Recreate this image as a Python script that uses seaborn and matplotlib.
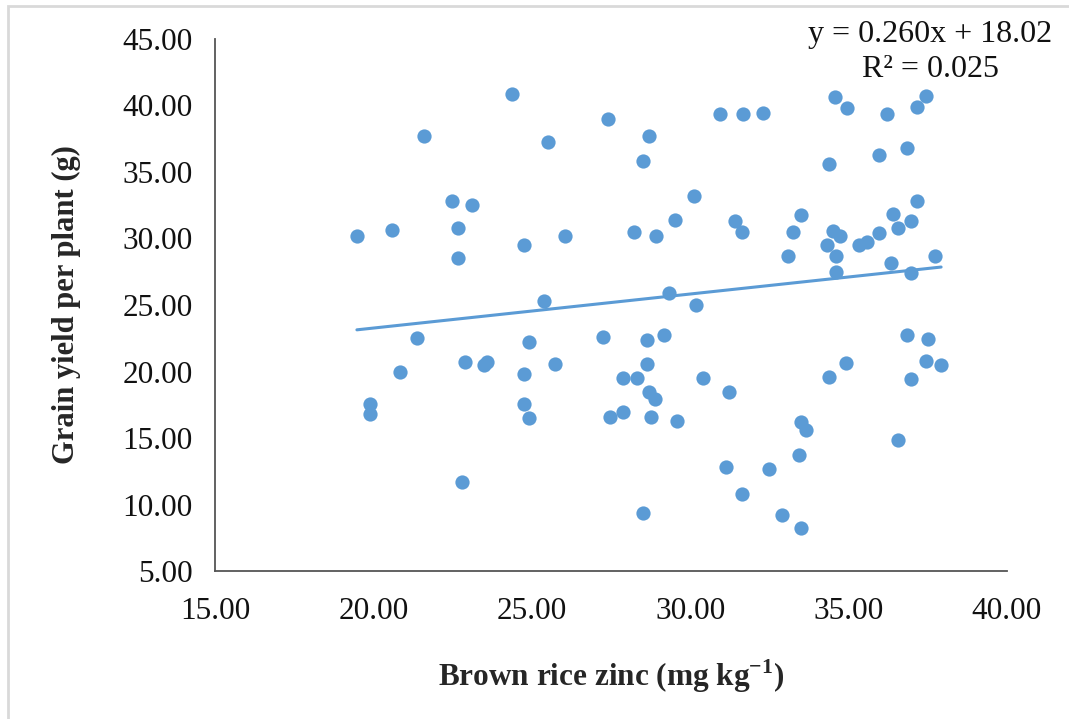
import numpy as np
import pandas as pd
import matplotlib
matplotlib.use("Agg")
import matplotlib.pyplot as plt
import seaborn as sns

# brown rice zinc (mg/kg) and grain yield per plant (g)
zinc = [19.48, 20.59, 19.89, 19.89, 20.84, 21.60, 21.38, 22.48, 22.67, 22.67,
        23.11, 22.89, 22.80, 23.49, 23.59, 24.37, 24.75, 24.75, 24.75, 24.91,
        24.91, 25.38, 25.51, 25.73, 26.05, 27.25, 27.40, 27.47, 27.88, 27.88,
        28.23, 28.32, 28.50, 28.50, 28.64, 28.64, 28.70, 28.70, 28.76, 28.90,
        28.92, 29.17, 29.33, 29.52, 29.58, 30.12, 30.18, 30.40, 30.94, 31.13,
        31.22, 31.41, 31.63, 31.63, 31.67, 32.30, 32.49, 32.90, 33.09, 33.24,
        33.43, 33.50, 33.50, 33.50, 33.66, 34.32, 34.38, 34.38, 34.50, 34.57,
        34.60, 34.60, 34.73, 34.92, 34.95, 35.33, 35.58, 35.96, 35.96, 36.20,
        36.34, 36.40, 36.56, 36.56, 36.84, 36.84, 36.97, 36.97, 36.97, 37.16,
        37.16, 37.44, 37.44, 37.50, 37.73, 37.92]
grain_yield = [30.19, 30.64, 17.56, 16.80, 19.96, 37.70, 22.52, 32.80, 30.79, 28.53,
               32.52, 20.71, 11.70, 20.49, 20.71, 40.86, 29.51, 19.81, 17.56, 22.22,
               16.50, 25.30, 37.26, 20.56, 30.19, 22.60, 38.98, 16.58, 19.50, 16.96,
               30.49, 19.50, 35.80, 9.36, 22.37, 20.56, 37.70, 18.46, 16.58, 17.90,
               30.19, 22.74, 25.90, 31.39, 16.28, 33.20, 25.00, 19.50, 39.36, 12.82,
               18.46, 31.32, 30.49, 10.80, 39.36, 39.40, 12.67, 9.20, 28.68, 30.49,
               13.72, 31.77, 16.20, 8.23, 15.60, 29.51, 35.60, 19.59, 30.56, 40.60,
               28.68, 27.48, 30.19, 20.64, 39.80, 29.51, 29.74, 36.28, 30.41, 39.36,
               28.16, 31.84, 30.79, 14.85, 36.80, 22.74, 31.32, 27.40, 19.44, 39.90,
               32.80, 40.70, 20.79, 22.44, 28.68, 20.49]

df = pd.DataFrame({"zinc": zinc, "yield": grain_yield})

sns.set_style("white")
plt.rcParams["font.family"] = ["Liberation Serif", "DejaVu Serif"]
plt.rcParams["mathtext.fontset"] = "custom"
plt.rcParams["mathtext.rm"] = "Liberation Serif:bold"
plt.rcParams["mathtext.bf"] = "Liberation Serif:bold"

blue = "#5B9BD5"
fig = plt.figure(figsize=(10.69, 7.19), dpi=100)
ax = fig.add_axes([0.2011, 0.2058, 0.7409, 0.74])

# thin grey frame like the pasted excel chart
fig.patches.append(plt.Rectangle((8 / 1069, -0.05), 1.2, 1 - 6 / 719 + 0.05,
                                 transform=fig.transFigure, fill=False,
                                 edgecolor="#d9d9d9", linewidth=2))

sns.regplot(data=df, x="zinc", y="yield", ax=ax, ci=None, truncate=True,
            scatter_kws={"s": 105, "color": blue, "alpha": 1, "linewidths": 0},
            line_kws={"color": blue, "linewidth": 2.2})

ax.set_xlim(15, 40)
ax.set_ylim(5, 45)
ax.set_xticks(np.arange(15, 41, 5))
ax.set_yticks(np.arange(5, 46, 5))
ax.xaxis.set_major_formatter(matplotlib.ticker.FormatStrFormatter("%.2f"))
ax.yaxis.set_major_formatter(matplotlib.ticker.FormatStrFormatter("%.2f"))
ax.tick_params(axis="both", direction="out", length=7, width=1.2,
               color="#333333", labelsize=22.5, labelcolor="#111111")
ax.tick_params(axis="y", pad=9)
ax.tick_params(axis="x", pad=12)

for s in ["top", "right"]:
    ax.spines[s].set_visible(False)
for s in ["left", "bottom"]:
    ax.spines[s].set_color("#555555")
    ax.spines[s].set_linewidth(1.3)

ax.set_xlabel(r"Brown rice zinc (mg kg$^{-1}$)", fontsize=22.5, fontweight="bold", labelpad=22)
ax.set_ylabel("Grain yield per plant (g)", fontsize=22, fontweight="bold", labelpad=30)

ax.text(0.903, 1.035, "y = 0.260x + 18.02\nR² = 0.025", transform=ax.transAxes,
        ha="center", va="top", fontsize=23, linespacing=1.25, color="#111111")

fig.savefig("out.png", dpi=100)
